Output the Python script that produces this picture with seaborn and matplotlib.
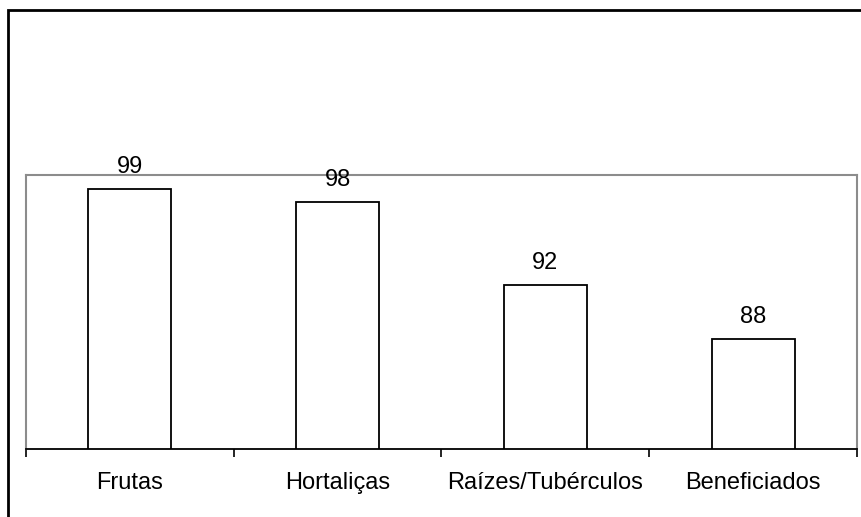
import matplotlib
matplotlib.use("Agg")
import matplotlib.pyplot as plt
import seaborn as sns
import pandas as pd
from matplotlib.patches import Rectangle

categorias = ["Frutas", "Hortaliças", "Raízes/Tubérculos", "Beneficiados"]
valores = [99, 98, 92, 88]

sns.set_style("white")
plt.rcParams["font.family"] = ["Liberation Sans", "DejaVu Sans"]
plt.rcParams["text.color"] = "black"
plt.rcParams["xtick.color"] = "black"
plt.rcParams["xtick.labelcolor"] = "black"

df = pd.DataFrame({"categoria": categorias, "valor": valores})

fig = plt.figure(figsize=(8.61, 5.17), dpi=100)
ax = fig.add_axes([26 / 861, 68 / 517, 831 / 861, 274 / 517])

sns.barplot(data=df, x="categoria", y="valor", ax=ax, color="white",
            edgecolor="black", linewidth=1.3, width=0.4, saturation=1)

ax.set_ylim(80, 100)
ax.set_xlim(-0.5, len(categorias) - 0.5)
ax.set_xlabel("")
ax.set_ylabel("")
ax.set_yticks([])

for p, v in zip(ax.patches, valores):
    ax.annotate(f"{v}", (p.get_x() + p.get_width() / 2, v),
                xytext=(0, 11.5), textcoords="offset points",
                ha="center", va="baseline", fontsize=17, color="black")

ax.tick_params(axis="x", which="major", length=0, pad=16.5, labelsize=17,
               labelcolor="black")
ax.set_xticks([i - 0.5 for i in range(len(categorias) + 1)], minor=True)
ax.tick_params(axis="x", which="minor", bottom=True, length=6, width=1.2,
               color="black", direction="out")

for s in ["top", "right", "left"]:
    ax.spines[s].set_color("#8c8c8c")
    ax.spines[s].set_linewidth(1.5)
ax.spines["bottom"].set_color("black")
ax.spines["bottom"].set_linewidth(1.3)

fig.patches.append(Rectangle((8 / 861, -0.01), 1.02, (517 - 10) / 517 + 0.01,
                             transform=fig.transFigure, fill=False,
                             edgecolor="black", linewidth=2))

fig.savefig("out.png", dpi=100)
